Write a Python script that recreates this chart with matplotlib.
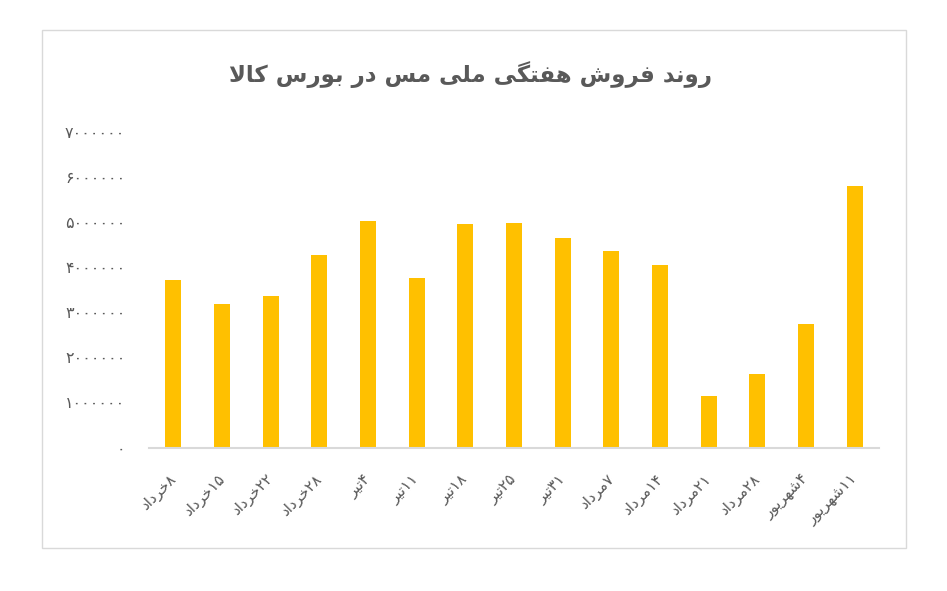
import numpy as np
import matplotlib
matplotlib.use("Agg")
import matplotlib.pyplot as plt
from matplotlib.ticker import FuncFormatter
from matplotlib.patches import Rectangle

# data
title = "روند فروش هفتگی ملی مس در بورس کالا"
weeks = ["۸خرداد", "۱۵خرداد", "۲۲خرداد", "۲۸خرداد", "۴تیر", "۱۱تیر", "۱۸تیر",
         "۲۵تیر", "۳۱تیر", "۷مرداد", "۱۴مرداد", "۲۱مرداد", "۲۸مرداد",
         "۴شهریور", "۱۱شهریور"]
sales = [3710000, 3180000, 3360000, 4270000, 5020000, 3750000, 4960000,
         4980000, 4640000, 4350000, 4050000, 1140000, 1630000, 2740000, 5800000]
yticks = [0, 1000000, 2000000, 3000000, 4000000, 5000000, 6000000, 7000000]

BAR = "#FFC000"
TXT = "#595959"

# simple persian shaping (matplotlib draws left to right, no joining)
FORMS = {
    'ا': (0xFE8D, 0xFE8E, None, None),
    'ب': (0xFE8F, 0xFE90, 0xFE91, 0xFE92),
    'پ': (0xFB56, 0xFB57, 0xFB58, 0xFB59),
    'ت': (0xFE95, 0xFE96, 0xFE97, 0xFE98),
    'خ': (0xFEA5, 0xFEA6, 0xFEA7, 0xFEA8),
    'د': (0xFEA9, 0xFEAA, None, None),
    'ر': (0xFEAD, 0xFEAE, None, None),
    'س': (0xFEB1, 0xFEB2, 0xFEB3, 0xFEB4),
    'ش': (0xFEB5, 0xFEB6, 0xFEB7, 0xFEB8),
    'ف': (0xFED1, 0xFED2, 0xFED3, 0xFED4),
    'ل': (0xFEDD, 0xFEDE, 0xFEDF, 0xFEE0),
    'م': (0xFEE1, 0xFEE2, 0xFEE3, 0xFEE4),
    'ن': (0xFEE5, 0xFEE6, 0xFEE7, 0xFEE8),
    'ه': (0xFEE9, 0xFEEA, 0xFEEB, 0xFEEC),
    'و': (0xFEED, 0xFEEE, None, None),
    'ک': (0xFB8E, 0xFB8F, 0xFB90, 0xFB91),
    'گ': (0xFB92, 0xFB93, 0xFB94, 0xFB95),
    'ی': (0xFBFC, 0xFBFD, 0xFBFE, 0xFBFF),
}


def dual(c):
    return c in FORMS and FORMS[c][2] is not None


def shape(word):
    out = []
    i = 0
    while i < len(word):
        c = word[i]
        if c not in FORMS:
            out.append(c)
            i += 1
            continue
        prev = word[i - 1] if i > 0 else ''
        jp = dual(prev)
        if c == 'ل' and i + 1 < len(word) and word[i + 1] == 'ا':
            out.append(chr(0xFEFC if jp else 0xFEFB))
            i += 2
            continue
        nxt = word[i + 1] if i + 1 < len(word) else ''
        jn = dual(c) and nxt in FORMS
        iso, fin, ini, med = FORMS[c]
        if jp and jn:
            f = med
        elif jp:
            f = fin
        elif jn:
            f = ini
        else:
            f = iso
        out.append(chr(f))
        i += 1
    return out


def fa(s):
    # split into digit runs and letter runs, lay out right to left
    runs = []
    for c in s:
        isd = c.isdigit()
        if runs and runs[-1][0] == isd:
            runs[-1][1].append(c)
        else:
            runs.append([isd, [c]])
    vis = ""
    for isd, chars in reversed(runs):
        if isd:
            vis += "".join(chars)
        else:
            vis += "".join(reversed(shape("".join(chars))))
    return vis


def fa_num(v, pos):
    return str(int(round(v))).translate(str.maketrans("0123456789", "۰۱۲۳۴۵۶۷۸۹"))


plt.rcParams['font.family'] = ['DejaVu Sans']

fig = plt.figure(figsize=(9.47, 5.91), dpi=100)
fig.patches.append(Rectangle((42 / 947, 1 - 548 / 591), 864 / 947, 518 / 591,
                             transform=fig.transFigure, fill=False,
                             edgecolor="#d9d9d9", linewidth=1))

ax = fig.add_axes([149 / 947, 1 - 447.5 / 591, 730 / 947, 316 / 591])
x = np.arange(len(weeks))
ax.bar(x, sales, width=0.33, color=BAR, zorder=2)
ax.set_xlim(-0.5, len(weeks) - 0.5)
ax.set_ylim(0, 7000000)
ax.set_yticks(yticks)
ax.yaxis.set_major_formatter(FuncFormatter(fa_num))
ax.set_xticks(x)
ax.set_xticklabels([fa(w) for w in weeks], rotation=45, ha='right', va='center',
                   rotation_mode='anchor')
for s in ['top', 'right', 'left']:
    ax.spines[s].set_visible(False)
ax.spines['bottom'].set_color("#d9d9d9")
ax.spines['bottom'].set_linewidth(1.5)
ax.tick_params(axis='y', length=0, pad=17, labelsize=11.5, labelcolor=TXT)
ax.tick_params(axis='x', length=0, pad=21, labelsize=11, labelcolor=TXT)

fig.text(470 / 947, 1 - 75 / 591, fa(title), ha='center', va='center',
         fontsize=16.5, fontweight='bold', color=TXT)

fig.savefig("out.png", dpi=100)
